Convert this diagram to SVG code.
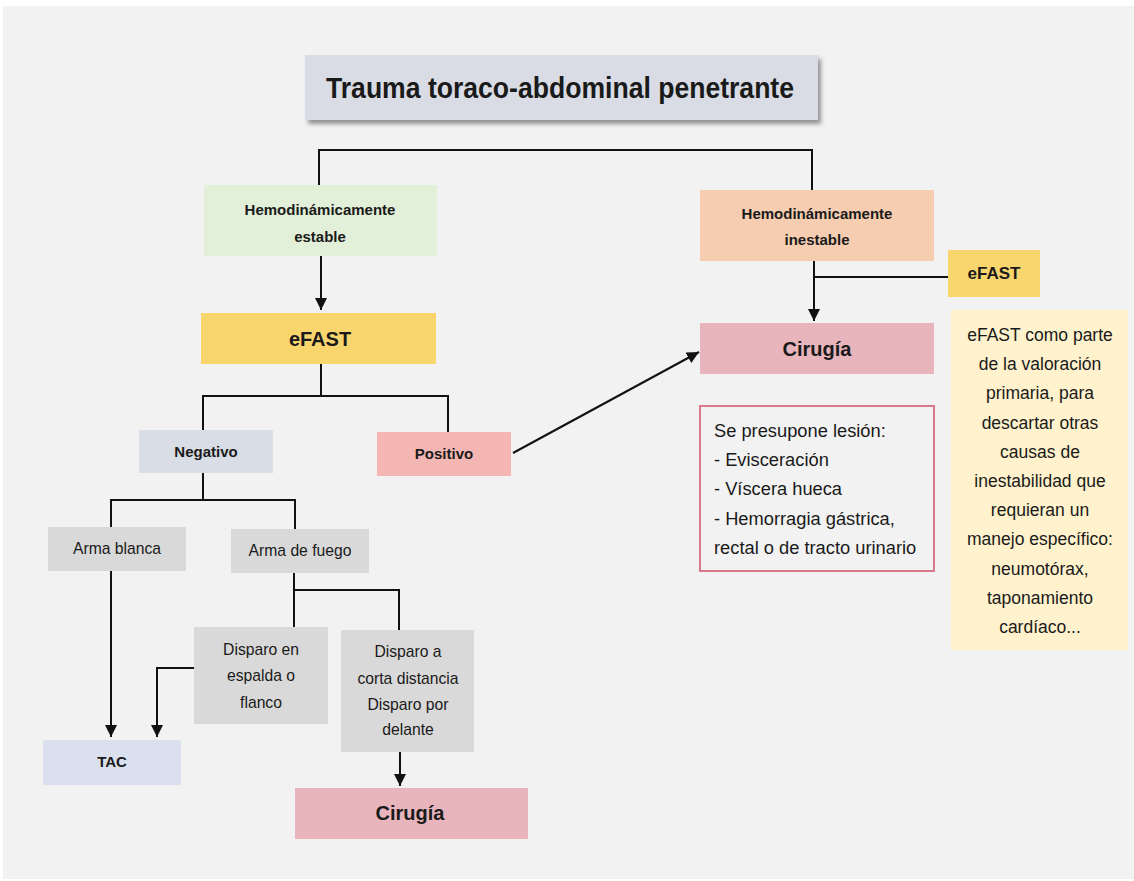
<svg xmlns="http://www.w3.org/2000/svg" width="1134" height="881" viewBox="0 0 1134 881">
<style>
.t{font-family:"Liberation Sans",Arial,sans-serif;fill:#1a1a1a;text-anchor:middle}
.l{text-anchor:start}
.b{font-weight:bold}
.s15{font-size:15px}
.s16{font-size:15.7px}
.s17{font-size:17.5px}
.s18{font-size:18.3px}
.s22{font-size:20px}
.ln{fill:none;stroke:#111;stroke-width:2}
</style>
<defs>
<marker id="ah" markerWidth="12" markerHeight="12" refX="10" refY="5" orient="auto" markerUnits="userSpaceOnUse" viewBox="0 0 10 10">
<path d="M0,0 L10,5 L0,10 Z" fill="#111"/>
</marker>
<filter id="sh" x="-5%" y="-20%" width="115%" height="150%">
<feDropShadow dx="3" dy="4" stdDeviation="2" flood-color="#555" flood-opacity="0.6"/>
</filter>
</defs>
<rect x="0" y="0" width="1134" height="881" fill="#ffffff"/>
<rect x="3" y="6" width="1131" height="873" fill="#f2f2f2"/>

<g id="connectors">
<path class="ln" d="M319,185 V150 H812 V190"/>
<path class="ln" d="M321,256 V310" marker-end="url(#ah)"/>
<path class="ln" d="M321,364 V396 M203,430 V396 H448 V432"/>
<path class="ln" d="M513,453 L699,352" marker-end="url(#ah)"/>
<path class="ln" d="M203,473 V500 M111,527 V500 H295 V529"/>
<path class="ln" d="M111,571 V737" marker-end="url(#ah)"/>
<path class="ln" d="M294,573 V627 M294,590 H399 V630"/>
<path class="ln" d="M194,668 H157 V737" marker-end="url(#ah)"/>
<path class="ln" d="M400,752 V786" marker-end="url(#ah)"/>
<path class="ln" d="M814,261 V321" marker-end="url(#ah)"/>
<path class="ln" d="M814,277 H948"/>
</g>

<g id="title">
<rect x="305" y="55" width="513" height="65" fill="#d9dce4" filter="url(#sh)"/>
<text class="t b" x="560" y="98" font-size="30" textLength="468" lengthAdjust="spacingAndGlyphs">Trauma toraco-abdominal penetrante</text>
</g>

<g id="estable">
<rect x="204" y="185" width="233" height="71" fill="#e2efd9"/>
<text class="t b s15" x="320" y="215">Hemodinámicamente</text>
<text class="t b s15" x="320" y="242">estable</text>
</g>

<g id="efast1">
<rect x="201" y="313" width="235" height="51" fill="#f9d56e"/>
<text class="t b s22" x="320" y="346">eFAST</text>
</g>

<g id="negativo">
<rect x="139" y="430" width="134" height="43" fill="#d9dde6"/>
<text class="t b s15" x="206" y="457">Negativo</text>
</g>

<g id="positivo">
<rect x="377" y="432" width="134" height="44" fill="#f4b6b3"/>
<text class="t b s15" x="444" y="459">Positivo</text>
</g>

<g id="armablanca">
<rect x="48" y="527" width="138" height="44" fill="#d9d9d9"/>
<text class="t s16" x="117" y="554">Arma blanca</text>
</g>

<g id="armafuego">
<rect x="231" y="529" width="138" height="44" fill="#d9d9d9"/>
<text class="t s16" x="300" y="556">Arma de fuego</text>
</g>

<g id="espalda">
<rect x="194" y="627" width="134" height="97" fill="#d9d9d9"/>
<text class="t s16" x="261" y="655">Disparo en</text>
<text class="t s16" x="261" y="681">espalda o</text>
<text class="t s16" x="261" y="708">flanco</text>
</g>

<g id="corta">
<rect x="341" y="630" width="133" height="122" fill="#d9d9d9"/>
<text class="t s16" x="408" y="657">Disparo a</text>
<text class="t s16" x="408" y="684">corta distancia</text>
<text class="t s16" x="408" y="710">Disparo por</text>
<text class="t s16" x="408" y="735">delante</text>
</g>

<g id="tac">
<rect x="43" y="740" width="138" height="45" fill="#dae0ee"/>
<text class="t b s15" x="112" y="767">TAC</text>
</g>

<g id="cirugia2">
<rect x="295" y="788" width="233" height="51" fill="#e9b5bd"/>
<text class="t b s22" x="410" y="820">Cirugía</text>
</g>

<g id="inestable">
<rect x="700" y="190" width="234" height="71" fill="#f6cdb0"/>
<text class="t b s15" x="817" y="219">Hemodinámicamente</text>
<text class="t b s15" x="817" y="245">inestable</text>
</g>

<g id="efast2">
<rect x="948" y="250" width="92" height="47" fill="#f9d56e"/>
<text class="t b" x="994" y="279" font-size="17">eFAST</text>
</g>

<g id="cirugia1">
<rect x="700" y="323" width="234" height="51" fill="#e9b5bd"/>
<text class="t b s22" x="817" y="356">Cirugía</text>
</g>

<g id="lesion">
<rect x="700" y="406" width="234" height="165" fill="#f2f2f2" stroke="#d97a8a" stroke-width="2"/>
<text class="t l s18" x="714" y="437">Se presupone lesión:</text>
<text class="t l s18" x="714" y="466">- Evisceración</text>
<text class="t l s18" x="714" y="495">- Víscera hueca</text>
<text class="t l s18" x="714" y="525">- Hemorragia gástrica,</text>
<text class="t l s18" x="714" y="554">rectal o de tracto urinario</text>
</g>

<g id="nota">
<rect x="951" y="310" width="177" height="340" fill="#fff2cc"/>
<text class="t s17" x="1040" y="341">eFAST como parte</text>
<text class="t s17" x="1040" y="370">de la valoración</text>
<text class="t s17" x="1040" y="399">primaria, para</text>
<text class="t s17" x="1040" y="429">descartar otras</text>
<text class="t s17" x="1040" y="458">causas de</text>
<text class="t s17" x="1040" y="487">inestabilidad que</text>
<text class="t s17" x="1040" y="516">requieran un</text>
<text class="t s17" x="1040" y="545">manejo específico:</text>
<text class="t s17" x="1040" y="575">neumotórax,</text>
<text class="t s17" x="1040" y="604">taponamiento</text>
<text class="t s17" x="1040" y="633">cardíaco...</text>
</g>
</svg>
